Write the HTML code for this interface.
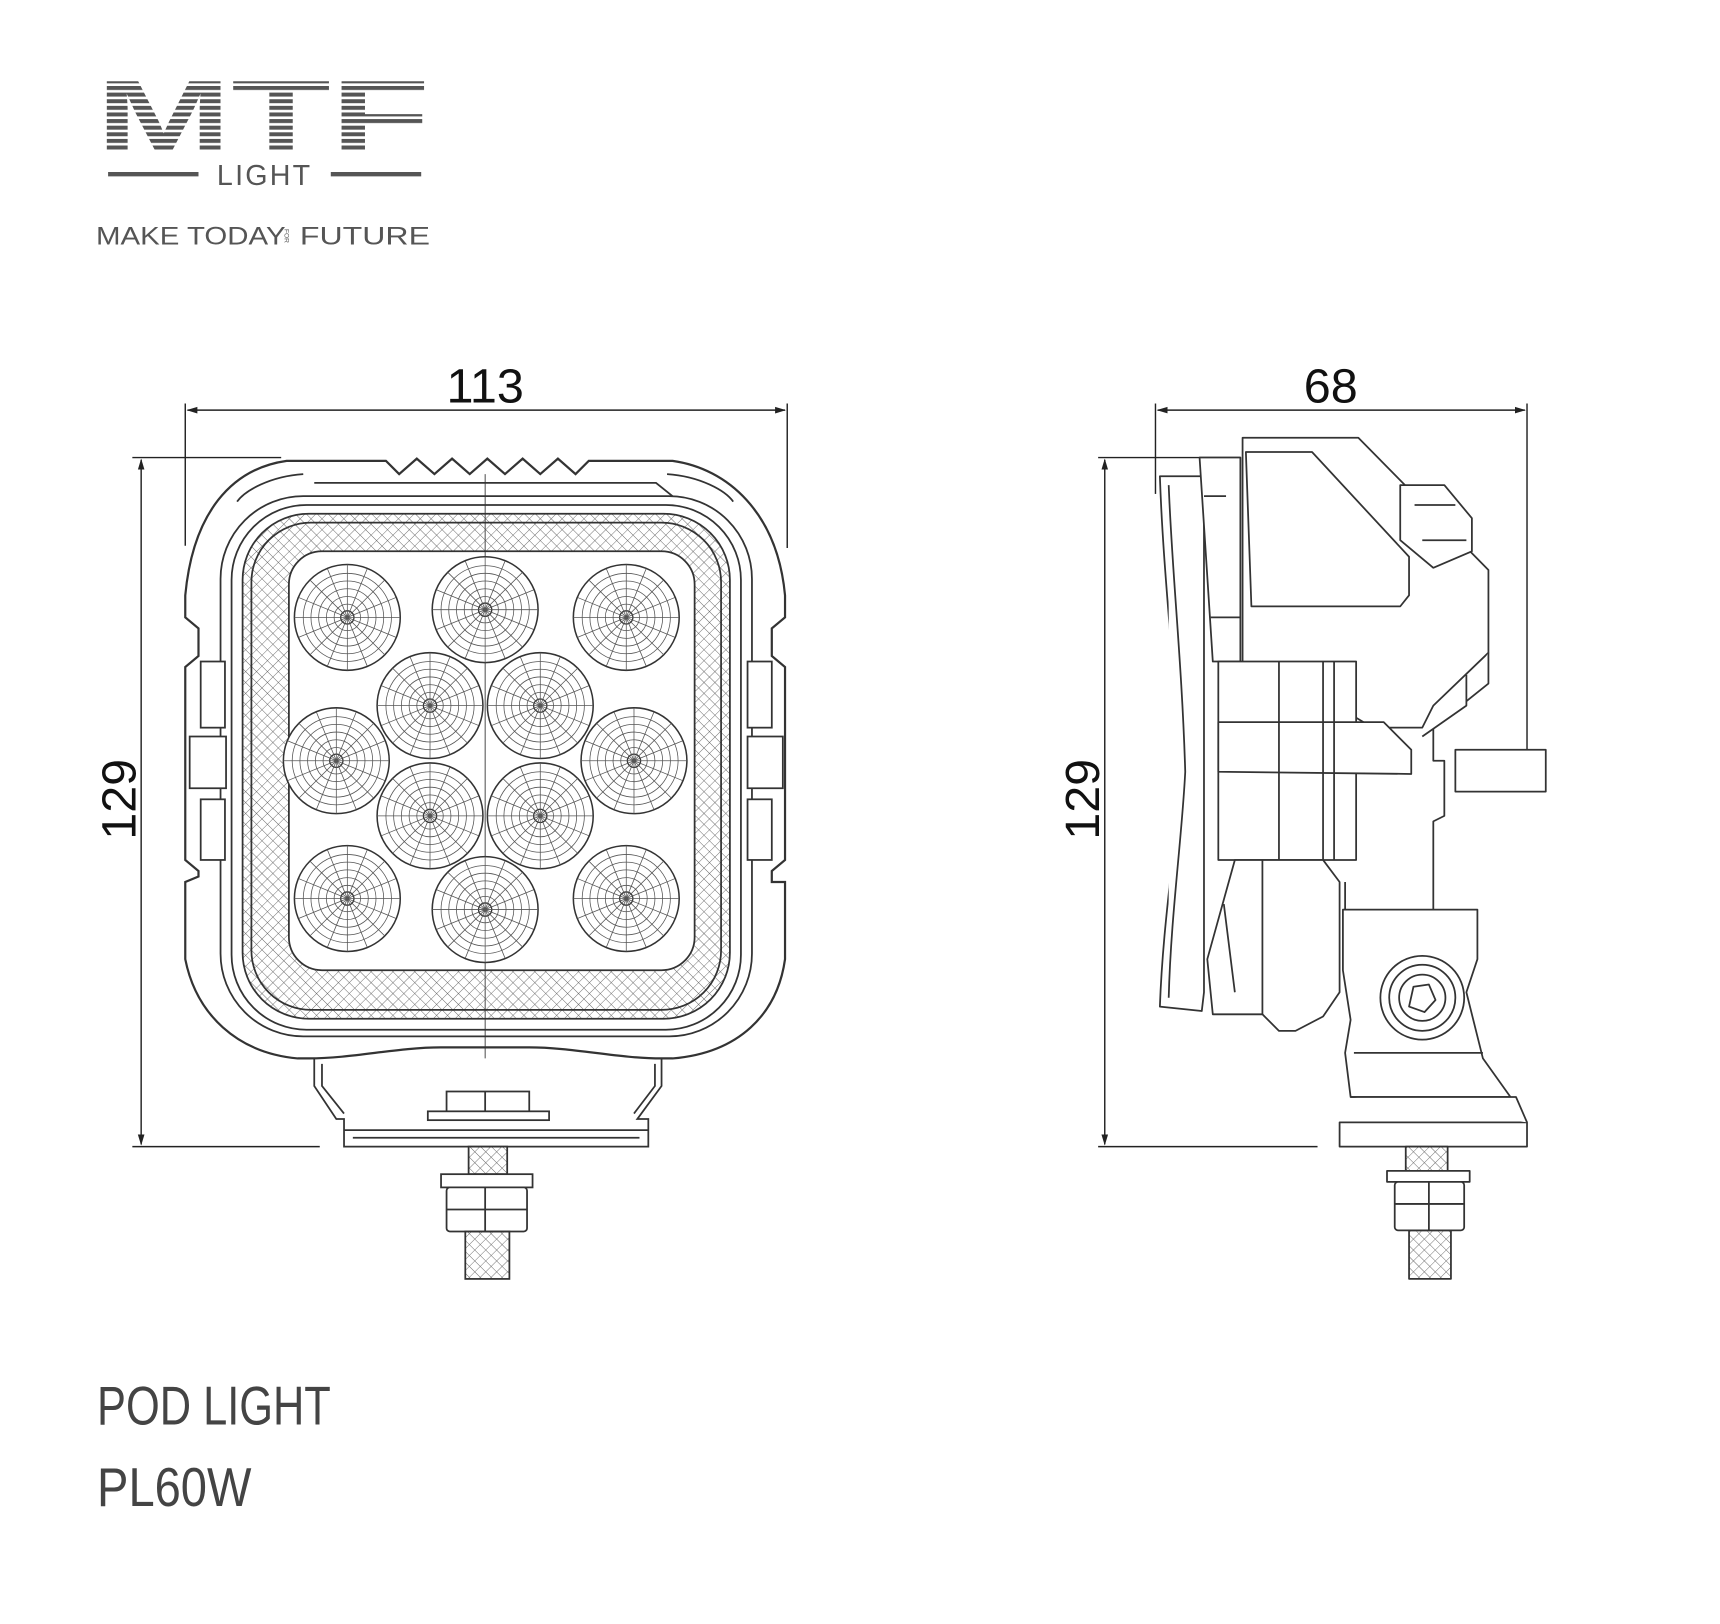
<!DOCTYPE html>
<html><head><meta charset="utf-8"><style>
html,body{margin:0;padding:0;background:#fff;}
svg{display:block;}
</style></head><body>
<svg width="1720" height="1624" viewBox="0 0 1560 1473" xmlns="http://www.w3.org/2000/svg">
<defs>
<pattern id="stripes" width="10" height="6" patternUnits="userSpaceOnUse" y="72">
<rect width="10" height="3.6" fill="#555"/>
</pattern>
<pattern id="mesh" width="7" height="7" patternUnits="userSpaceOnUse" patternTransform="rotate(45)">
<path d="M0 0H7M0 0V7" stroke="#666" stroke-width="0.8"/>
</pattern>
<marker id="ar" markerWidth="10" markerHeight="8" refX="9" refY="4" orient="auto-start-reverse" markerUnits="userSpaceOnUse">
<path d="M0 1L10 4L0 7z" fill="#222"/>
</marker>
<g id="led">
<circle r="48" fill="#fff" stroke="#333" stroke-width="1.4"/>
<circle r="40" fill="none" stroke="#555" stroke-width="0.7"/>
<circle r="33" fill="none" stroke="#555" stroke-width="0.7"/>
<circle r="26" fill="none" stroke="#555" stroke-width="0.7"/>
<circle r="19" fill="none" stroke="#555" stroke-width="0.7"/>
<circle r="12" fill="none" stroke="#555" stroke-width="0.7"/>
<circle r="6" fill="none" stroke="#333" stroke-width="1.2"/>
<g stroke="#555" stroke-width="0.7">
<path d="M-48 0H48M0 -48V48M-34 -34L34 34M-34 34L34 -34M-44 -18L44 18M-44 18L44 -18M-18 -44L18 44M18 -44L-18 44"/>
</g>
</g>
</defs>

<!-- Logo -->
<text x="87" y="137" font-family="Liberation Sans, sans-serif" font-weight="bold" font-size="92" textLength="303" lengthAdjust="spacingAndGlyphs" fill="url(#stripes)">MTF</text>
<line x1="98" y1="158" x2="180" y2="158" stroke="#555" stroke-width="4"/>
<line x1="300" y1="158" x2="382" y2="158" stroke="#555" stroke-width="4"/>
<text x="240" y="168" text-anchor="middle" font-family="Liberation Sans, sans-serif" font-size="26" fill="#555" letter-spacing="2">LIGHT</text>
<text x="87" y="222" font-family="Liberation Sans, sans-serif" font-size="23" fill="#555" textLength="172" lengthAdjust="spacingAndGlyphs">MAKE TODAY</text>
<text x="265" y="221" text-anchor="middle" font-family="Liberation Sans, sans-serif" font-size="6" fill="#555" transform="rotate(90 265 214)">FOR</text>
<text x="272" y="222" font-family="Liberation Sans, sans-serif" font-size="23" fill="#555" textLength="118" lengthAdjust="spacingAndGlyphs">FUTURE</text>

<!-- Dimensions front -->
<g stroke="#222" stroke-width="1.3" fill="none">
<line x1="170" y1="372" x2="712" y2="372" marker-start="url(#ar)" marker-end="url(#ar)"/>
<line x1="168" y1="366" x2="168" y2="495"/>
<line x1="714" y1="366" x2="714" y2="497"/>
<line x1="128" y1="417" x2="128" y2="1038" marker-start="url(#ar)" marker-end="url(#ar)"/>
<line x1="120" y1="415" x2="255" y2="415"/>
<line x1="120" y1="1040" x2="290" y2="1040"/>
<line x1="1050" y1="372" x2="1383" y2="372" marker-start="url(#ar)" marker-end="url(#ar)"/>
<line x1="1048" y1="366" x2="1048" y2="448"/>
<line x1="1385" y1="366" x2="1385" y2="680"/>
<line x1="1002" y1="417" x2="1002" y2="1038" marker-start="url(#ar)" marker-end="url(#ar)"/>
<line x1="996" y1="415" x2="1125" y2="415"/>
<line x1="996" y1="1040" x2="1195" y2="1040"/>
</g>
<text x="440" y="365" text-anchor="middle" font-family="Liberation Sans, sans-serif" font-size="44" fill="#111">113</text>
<text x="1207" y="365" text-anchor="middle" font-family="Liberation Sans, sans-serif" font-size="44" fill="#111">68</text>
<text transform="translate(123,725) rotate(-90)" text-anchor="middle" font-family="Liberation Sans, sans-serif" font-size="44" fill="#111">129</text>
<text transform="translate(997,725) rotate(-90)" text-anchor="middle" font-family="Liberation Sans, sans-serif" font-size="44" fill="#111">129</text>

<!-- Front view -->
<g stroke="#333" stroke-width="1.6" fill="none">
<path d="M285 960V985L305 1015H312V1040H588V1015H578L600 985V960" fill="#fff"/>
<path d="M292 965V985L312 1010M594 965V985L575 1010"/>
<path d="M312 1025H588M320 1032H580"/>
<rect x="405" y="990" width="75" height="25" fill="#fff"/>
<path d="M440 990V1015"/>
<rect x="388" y="1008" width="110" height="8" fill="#fff"/>
<rect x="425" y="1040" width="35" height="25" fill="url(#mesh)"/>
<rect x="400" y="1065" width="83" height="12" fill="#fff"/>
<rect x="405" y="1077" width="73" height="40" rx="3" fill="#fff"/>
<path d="M440 1077V1117M405 1097H478"/>
<rect x="422" y="1117" width="40" height="43" fill="url(#mesh)"/>
<path d="M260 418H350L362 430L378 416L394 430L410 416L426 430L442 416L458 430L474 416L490 430L506 416L522 430L534 418H610C660 425 705 465 712 540V560L700 570V595L712 605V780L700 790V800L712 800V870C705 920 670 955 610 960H600C560 960 520 950 480 950H400C360 950 320 960 280 960H270C215 955 178 920 168 870V800L180 795V790L168 780V605L180 595V570L168 560V540C175 465 210 425 260 418Z" fill="#fff" stroke-width="2"/>
<path d="M215 455C222 445 245 432 275 430M665 455C658 445 635 432 605 430"/>
<path d="M285 438H595L610 450"/>
<rect x="200" y="450" width="482" height="490" rx="75"/>
<rect x="210" y="458" width="462" height="476" rx="68"/>
<rect x="220" y="466" width="442" height="458" rx="60" fill="url(#mesh)"/>
<rect x="228" y="474" width="426" height="442" rx="54"/>
<rect x="262" y="500" width="368" height="380" rx="30" fill="#fff"/>
<rect x="182" y="600" width="22" height="60" fill="#fff"/>
<rect x="182" y="725" width="22" height="55" fill="#fff"/>
<path d="M172 668H205V715H172Z" fill="#fff"/>
<rect x="678" y="600" width="22" height="60" fill="#fff"/>
<rect x="678" y="725" width="22" height="55" fill="#fff"/>
<path d="M678 668H710V715H678Z" fill="#fff"/>
<line x1="440" y1="430" x2="440" y2="960" stroke-width="0.8"/>
</g>
<use href="#led" x="315" y="560"/>
<use href="#led" x="440" y="553"/>
<use href="#led" x="568" y="560"/>
<use href="#led" x="390" y="640"/>
<use href="#led" x="490" y="640"/>
<use href="#led" x="305" y="690"/>
<use href="#led" x="575" y="690"/>
<use href="#led" x="390" y="740"/>
<use href="#led" x="490" y="740"/>
<use href="#led" x="315" y="815"/>
<use href="#led" x="440" y="825"/>
<use href="#led" x="568" y="815"/>

<!-- Side view -->
<g stroke="#333" stroke-width="1.6" fill="#fff" stroke-linejoin="round">
<path d="M1320 680H1402V718H1320Z"/>
<path d="M1052 432H1092V900L1090 917L1052 913C1055 830 1068 760 1070 700C1065 600 1055 520 1052 432Z"/>
<path d="M1060 440C1063 520 1072 600 1075 700C1072 760 1062 830 1060 905"/>
<path d="M1088 415H1125V600H1100Z"/>
<path d="M1092 450H1112M1098 560H1125"/>
<path d="M1127 397H1232L1350 517V592L1300 640L1290 660H1245L1220 645H1135L1127 600Z"/>
<path d="M1130 410H1190L1278 505V540L1270 550H1135Z"/>
<path d="M1270 440H1310L1335 470V500L1300 515L1270 490Z"/>
<path d="M1283 458H1320M1290 490H1330"/>
<path d="M1105 600H1230V780H1105Z"/>
<path d="M1105 655H1255L1280 680L1280 702L1105 700Z"/>
<path d="M1160 600V780M1200 600V780M1210 600V780"/>
<path d="M1350 592V620L1300 660V690H1310V740L1300 745V890H1220V800"/>
<path d="M1330 612V640L1290 668"/>
<path d="M1120 780H1200L1215 800V900L1200 922L1175 935H1160L1145 920H1100L1095 870Z"/>
<path d="M1145 780V920M1110 820L1120 900"/>
<path d="M1218 825H1340L1340 870L1330 900L1345 960L1370 995H1225L1220 955L1225 925L1218 880Z"/>
<path d="M1228 955H1345"/>
<path d="M1215 1018H1385V1040H1215Z"/>
<path d="M1225 995H1375L1385 1018"/>
<circle cx="1290" cy="905" r="38"/>
<circle cx="1290" cy="905" r="30"/>
<circle cx="1290" cy="905" r="21"/>
<path d="M1282 895L1296 893L1302 907L1292 918L1278 913Z" fill="#fff"/>
<rect x="1275" y="1040" width="38" height="22" fill="url(#mesh)"/>
<rect x="1258" y="1062" width="75" height="10"/>
<rect x="1265" y="1072" width="63" height="44" rx="3"/>
<path d="M1296 1072V1116M1265 1092H1328" fill="none"/>
<rect x="1278" y="1116" width="38" height="44" fill="url(#mesh)"/>
</g>

<text x="88" y="1292" font-family="Liberation Sans Narrow, Liberation Sans, sans-serif" font-size="50" fill="#444" textLength="212" lengthAdjust="spacingAndGlyphs">POD LIGHT</text>
<text x="88" y="1366" font-family="Liberation Sans Narrow, Liberation Sans, sans-serif" font-size="50" fill="#444" textLength="140" lengthAdjust="spacingAndGlyphs">PL60W</text>
</svg>
</body></html>
